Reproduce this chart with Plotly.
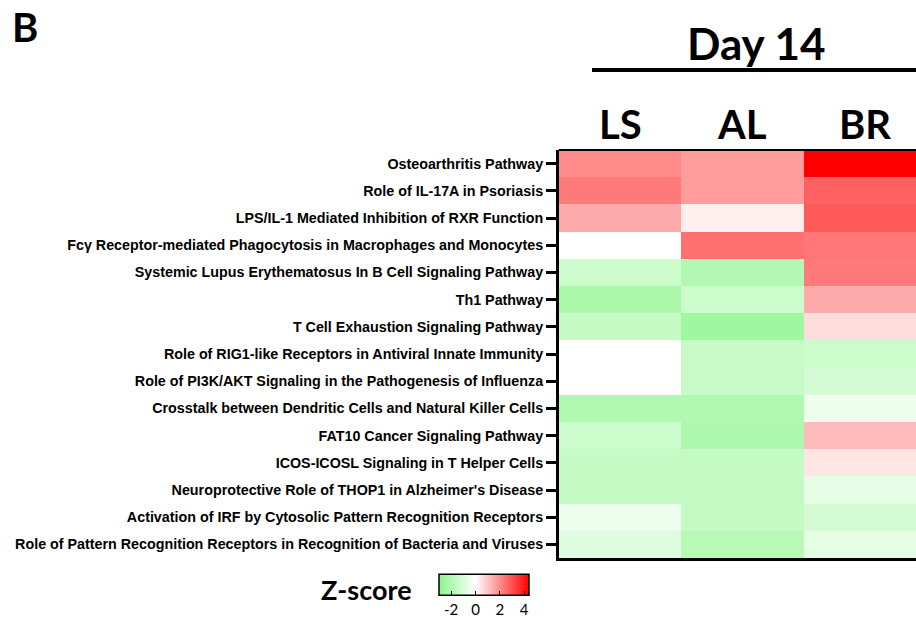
import plotly.graph_objects as go

pathways = [
    "Osteoarthritis Pathway",
    "Role of IL-17A in Psoriasis",
    "LPS/IL-1 Mediated Inhibition of RXR Function",
    "Fcγ Receptor-mediated Phagocytosis in Macrophages and Monocytes",
    "Systemic Lupus Erythematosus In B Cell Signaling Pathway",
    "Th1 Pathway",
    "T Cell Exhaustion Signaling Pathway",
    "Role of RIG1-like Receptors in Antiviral Innate Immunity",
    "Role of PI3K/AKT Signaling in the Pathogenesis of Influenza",
    "Crosstalk between Dendritic Cells and Natural Killer Cells",
    "FAT10 Cancer Signaling Pathway",
    "ICOS-ICOSL Signaling in T Helper Cells",
    "Neuroprotective Role of THOP1 in Alzheimer's Disease",
    "Activation of IRF by Cytosolic Pattern Recognition Receptors",
    "Role of Pattern Recognition Receptors in Recognition of Bacteria and Viruses",
]
groups = ["LS", "AL", "BR"]

ls_values = [2.0, 2.3, 1.47, 0.0, -1.33, -2.2, -1.54, 0.0, 0.0, -2.06, -1.33, -1.54, -1.54, -0.44, -0.8]
al_values = [1.7, 1.7, 0.29, 2.47, -2.0, -1.33, -2.5, -1.43, -1.43, -2.06, -2.15, -1.54, -1.54, -1.54, -1.85]
br_values = [4.4, 2.74, 2.85, 2.35, 2.3, 1.47, 0.58, -1.33, -1.12, -0.44, 1.17, 0.45, -0.7, -1.12, -0.7]

colorbar_ticks = [-2, 0, 2, 4]
colorbar_ticktext = ["-2", "0", "2", "4"]
zmin, zmax = -3.0, 4.4

z = [[a, b, c] for a, b, c in zip(ls_values, al_values, br_values)]
white_pos = (0 - zmin) / (zmax - zmin)
colorscale = [[0, "rgb(140,245,140)"], [white_pos, "rgb(255,255,255)"], [1, "rgb(255,0,0)"]]

big_font = "Lato, sans-serif"
label_font = "Liberation Sans, Arial, sans-serif"

W, H = 916, 634
L, T, B = 559, 150, 76
plot_w = W - L
plot_h = H - T - B


def px_x(x):
    return (x - L) / plot_w


def px_y(y):
    return (H - B - y) / plot_h


fig = go.Figure(
    go.Heatmap(
        z=z,
        x=groups,
        y=pathways,
        zmin=zmin,
        zmax=zmax,
        colorscale=colorscale,
        colorbar=dict(
            orientation="h",
            x=px_x(484),
            xanchor="center",
            y=px_y(599),
            yanchor="middle",
            len=110,
            lenmode="pixels",
            thickness=21,
            thicknessmode="pixels",
            outlinecolor="black",
            outlinewidth=1.5,
            tickvals=colorbar_ticks,
            ticktext=colorbar_ticktext,
            ticks="inside",
            ticklen=5,
            tickcolor="black",
            tickfont=dict(family=big_font, size=15, color="black"),
        ),
    )
)

fig.update_layout(
    width=W,
    height=H,
    margin=dict(l=L, r=0, t=T, b=B, pad=0, autoexpand=False),
    paper_bgcolor="white",
    plot_bgcolor="white",
    xaxis=dict(
        range=[-0.5, 2.5 - 10 / 122.5],
        showticklabels=False,
        ticks="",
        showline=True,
        linecolor="black",
        linewidth=3,
        showgrid=False,
        zeroline=False,
        fixedrange=True,
        automargin=False,
    ),
    yaxis=dict(
        autorange="reversed",
        showline=True,
        linecolor="black",
        linewidth=3,
        ticks="outside",
        ticklen=10,
        tickwidth=3,
        tickcolor="black",
        tickfont=dict(family=label_font, size=14.3, color="black", weight="bold"),
        showgrid=False,
        zeroline=False,
        fixedrange=True,
        automargin=False,
    ),
    showlegend=False,
)

# top border of heat map
fig.add_shape(type="line", xref="paper", yref="paper", x0=0, x1=1, y0=1, y1=1,
              line=dict(color="black", width=2))
# line under "Day 14"
fig.add_shape(type="line", xref="paper", yref="paper", x0=px_x(592), x1=1.0,
              y0=px_y(70), y1=px_y(70), line=dict(color="black", width=4))

annotations = [
    dict(text="<b>B</b>", x=px_x(10), xanchor="left", y=px_y(27), yanchor="middle",
         font=dict(family=big_font, size=40, color="black")),
    dict(text="<b>Day 14</b>", x=px_x(756), xanchor="center", y=px_y(43), yanchor="middle",
         font=dict(family=big_font, size=44, color="black")),
    dict(text="<b>Z-score</b>", x=px_x(366), xanchor="center", y=px_y(589), yanchor="middle",
         font=dict(family=big_font, size=27, color="black")),
]
for g in groups:
    annotations.append(dict(text=f"<b>{g}</b>", x=g, xref="x", xanchor="center",
                            y=px_y(124), yanchor="middle",
                            font=dict(family=big_font, size=40, color="black")))
for a in annotations:
    a.setdefault("xref", "paper")
    a["yref"] = "paper"
    a["showarrow"] = False
fig.update_layout(annotations=annotations)

fig.write_html(
    "out.html",
    config={"displayModeBar": False},
    post_script="document.body.style.margin='0';document.body.style.overflow='hidden';",
)
